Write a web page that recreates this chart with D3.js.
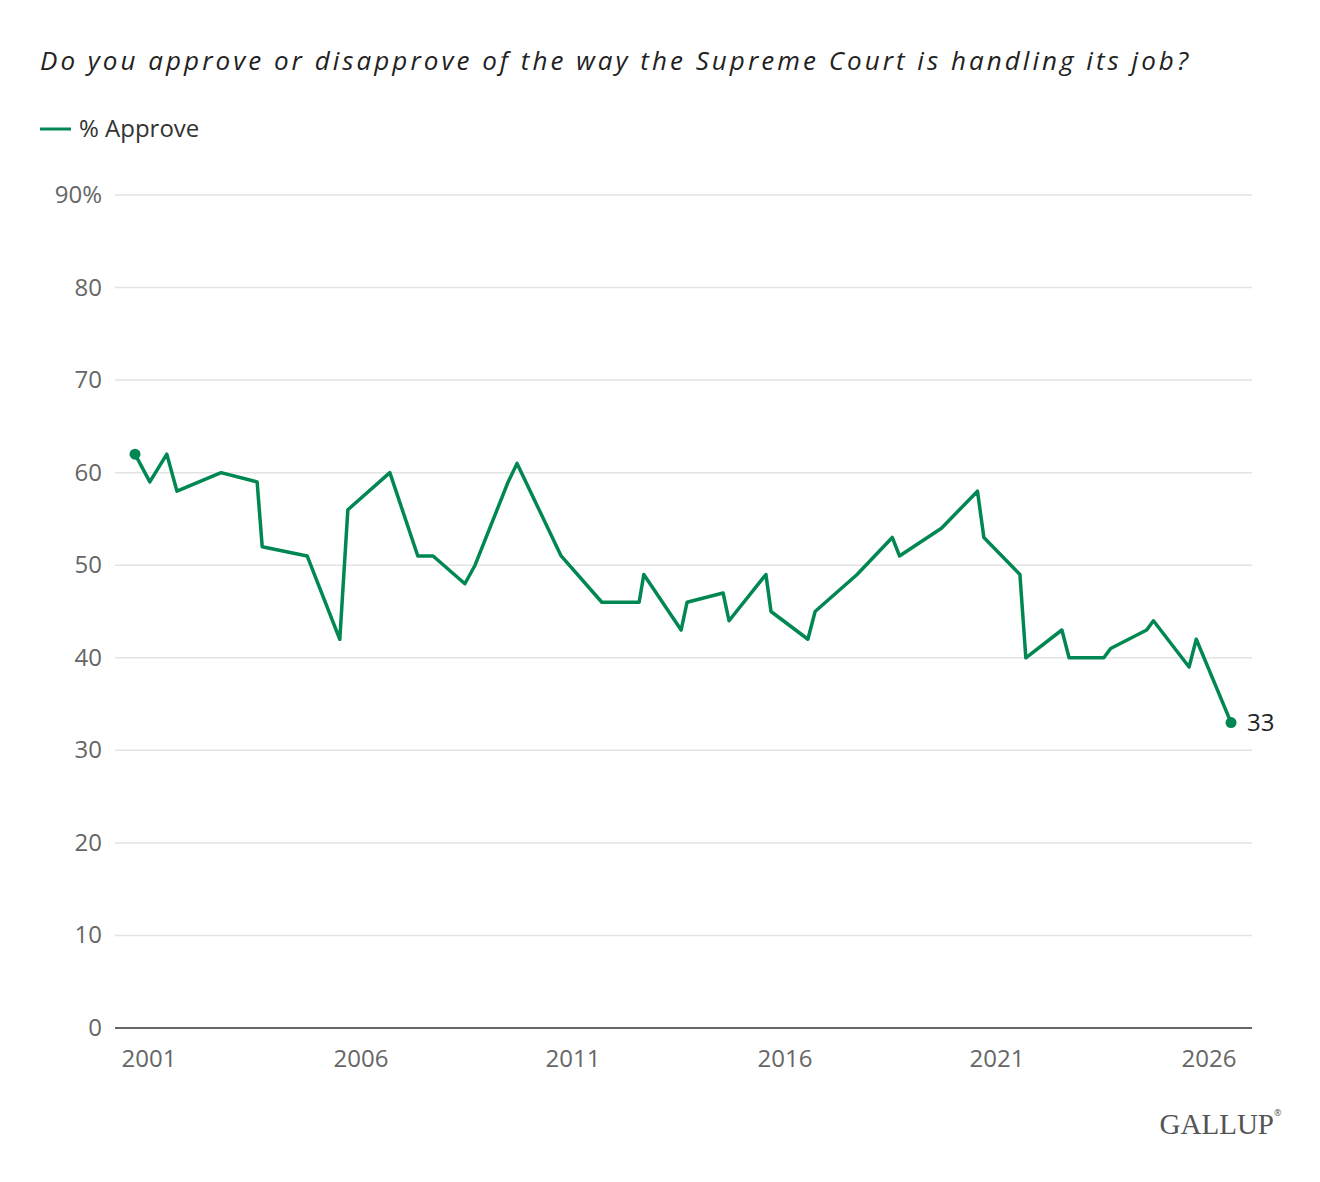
<!DOCTYPE html>
<html><head><meta charset="utf-8">
<script src="https://cdn.jsdelivr.net/npm/d3@7"></script>
<style>body{margin:0;background:#fff;font-family:"Open Sans","Noto Sans",sans-serif;}</style>
</head><body><div id="chart"></div>
<script>
// Survey dates as decimal years, % approve
var years = [2000.67,2001.02,2001.42,2001.66,2002.7,2003.55,2003.67,2004.73,2005.5,2005.69,
  2006.68,2007.34,2007.7,2008.45,2008.69,2009.47,2009.68,2010.72,2011.68,2012.56,2012.67,
  2013.55,2013.69,2014.54,2014.68,2015.55,2015.67,2016.54,2016.71,2017.7,2018.53,2018.7,
  2019.69,2020.54,2020.69,2021.54,2021.68,2022.53,2022.7,2023.52,2023.68,2024.53,2024.69,
  2025.53,2025.7,2026.52];
var approve = [62,59,62,58,60,59,52,51,42,56,60,51,51,48,50,59,61,51,46,46,49,43,46,47,44,
  49,45,42,45,49,53,51,54,58,53,49,40,43,40,40,41,43,44,39,42,33];
var xTicks = [2001,2006,2011,2016,2021,2026];
var yTicks = [0,10,20,30,40,50,60,70,80,90];

var data = years.map(function (y, i) { return { year: y, value: approve[i] }; });

var svg = d3.select("#chart").append("svg").attr("width", 1320).attr("height", 1182);

svg.append("text").attr("x", 40).attr("y", 70)
  .attr("font-size", 26).attr("font-style", "italic").attr("fill", "#222")
  .attr("textLength", 1148).attr("lengthAdjust", "spacing")
  .text("Do you approve or disapprove of the way the Supreme Court is handling its job?");

svg.append("line").attr("x1", 40).attr("x2", 71).attr("y1", 129).attr("y2", 129)
  .attr("stroke", "#008752").attr("stroke-width", 3);
svg.append("text").attr("x", 79).attr("y", 137).attr("font-size", 24).attr("fill", "#333")
  .text("% Approve");

var x = d3.scaleLinear().domain([2001, 2026]).range([149, 1209]);
var y = d3.scaleLinear().domain([0, 90]).range([1028, 195]);

// gridlines and labels
yTicks.forEach(function (t) {
  if (t > 0) {
    svg.append("line").attr("x1", 115).attr("x2", 1252).attr("y1", y(t)).attr("y2", y(t))
      .attr("stroke", "#e3e3e3").attr("stroke-width", 1.5);
  }
  svg.append("text").attr("x", 102).attr("y", y(t) + 8).attr("text-anchor", "end")
    .attr("font-size", 24).attr("fill", "#666").text(t === 90 ? "90%" : t);
});
svg.append("line").attr("x1", 115).attr("x2", 1252).attr("y1", y(0)).attr("y2", y(0))
  .attr("stroke", "#333").attr("stroke-width", 1.5);

xTicks.forEach(function (t) {
  svg.append("text").attr("x", x(t)).attr("y", 1067).attr("text-anchor", "middle")
    .attr("font-size", 24).attr("fill", "#666").text(t);
});

var line = d3.line().x(function (d) { return x(d.year); }).y(function (d) { return y(d.value); });
svg.append("path").datum(data).attr("d", line).attr("fill", "none")
  .attr("stroke", "#008752").attr("stroke-width", 3.5).attr("stroke-linejoin", "round");

[data[0], data[data.length - 1]].forEach(function (d) {
  svg.append("circle").attr("cx", x(d.year)).attr("cy", y(d.value)).attr("r", 5.5)
    .attr("fill", "#008752");
});
var last = data[data.length - 1];
svg.append("text").attr("x", x(last.year) + 16).attr("y", y(last.value) + 8)
  .attr("font-size", 24).attr("fill", "#222").text(last.value);

svg.append("text").attr("x", 1274).attr("y", 1134).attr("text-anchor", "end")
  .attr("font-family", "'Liberation Serif','DejaVu Serif',serif").attr("font-size", 29)
  .attr("fill", "#555").text("GALLUP");
svg.append("text").attr("x", 1274).attr("y", 1116).attr("font-size", 9)
  .attr("fill", "#555").text("®");
</script></body></html>
